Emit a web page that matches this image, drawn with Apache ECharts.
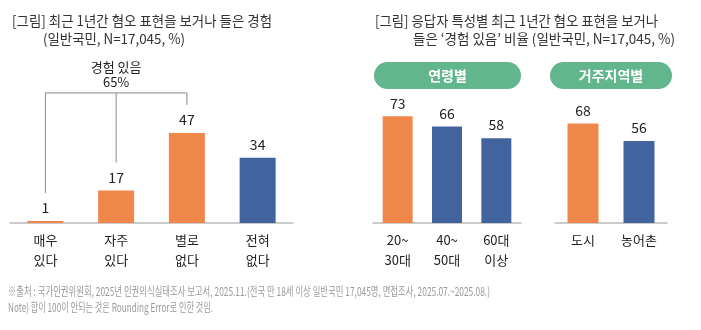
<!DOCTYPE html>
<html>
<head>
<meta charset="utf-8">
<script src="https://cdn.jsdelivr.net/npm/echarts@6/dist/echarts.min.js"></script>
<style>
  html, body { margin: 0; padding: 0; background: #fff; }
  #main { width: 701px; height: 330px; }
</style>
</head>
<body>
<div id="main"></div>
<script>
// 경험 빈도 (왼쪽)
const freqCats = ['매우\n있다', '자주\n있다', '별로\n없다', '전혀\n없다'];
const freqVals = [1, 17, 47, 34];
// 연령별
const ageCats = ['20~\n30대', '40~\n50대', '60대\n이상'];
const ageVals = [73, 66, 58];
// 거주지역별
const areaCats = ['도시', '농어촌'];
const areaVals = [68, 56];
const expSum = '경험 있음\n65%';

const ORANGE = '#f0874a';
const BLUE = '#41649e';
const GREEN = '#62b68c';
const freqColors = [ORANGE, ORANGE, ORANGE, BLUE];
const ageColors = [ORANGE, BLUE, BLUE];
const areaColors = [ORANGE, BLUE];

const FONT = '"Noto Sans CJK KR", "Noto Sans", sans-serif';

// 글자 폭 맞추기용
const cv = document.createElement('canvas').getContext('2d');
function fit(text, size, target) {
  cv.font = size + 'px ' + FONT;
  return target / cv.measureText(text).width;
}
function txt(text, x, y, size, width, color, weight) {
  return {
    type: 'text', x: x, y: y, scaleX: fit(text, size, width),
    style: { text: text, fontSize: size, fontFamily: FONT, fill: color || '#333',
      fontWeight: weight || 'normal', textAlign: 'left', textVerticalAlign: 'middle' }
  };
}

const chart = echarts.init(document.getElementById('main'));

function xAx(idx, cats) {
  return {
    type: 'category', gridIndex: idx, data: cats,
    axisLine: { lineStyle: { color: '#bbb', width: 1.5 } },
    axisTick: { show: false },
    axisLabel: { color: '#222', fontSize: 13, fontFamily: FONT, lineHeight: 20, margin: 7, interval: 0 }
  };
}
function yAx(idx, max) {
  return { type: 'value', gridIndex: idx, min: 0, max: max, show: false };
}
function bars(idx, vals, colors, w) {
  return {
    type: 'bar', xAxisIndex: idx, yAxisIndex: idx, barWidth: w,
    data: vals.map((v, i) => ({ value: v, itemStyle: { color: colors[i] } })),
    label: { show: true, position: 'top', distance: 6, color: '#222', fontSize: 14, fontFamily: FONT },
    animation: false
  };
}

chart.setOption({
  animation: false,
  grid: [
    { left: 10, width: 283, top: 108, height: 115 },
    { left: 373, width: 148, top: 106, height: 117 },
    { left: 555, width: 112, top: 106, height: 117 }
  ],
  xAxis: [xAx(0, freqCats), xAx(1, ageCats), xAx(2, areaCats)],
  yAxis: [yAx(0, 60), yAx(1, 80), yAx(2, 80)],
  series: [bars(0, freqVals, freqColors, 36), bars(1, ageVals, ageColors, 30), bars(2, areaVals, areaColors, 31)]
});

// 경험 있음 괄호
const pts = freqVals.slice(0, 3).map((v, i) => chart.convertToPixel({ xAxisIndex: 0, yAxisIndex: 0 }, [i, v]));
const topY = Math.min(...pts.map(p => p[1])) - 40;
const bracket = [
  { type: 'polyline', shape: { points: [[pts[0][0], pts[0][1] - 28], [pts[0][0], topY], [pts[2][0], topY], [pts[2][0], pts[2][1] - 28]] },
    style: { stroke: '#888', lineWidth: 1, fill: null } },
  { type: 'line', shape: { x1: pts[1][0], y1: topY, x2: pts[1][0], y2: pts[1][1] - 28 },
    style: { stroke: '#888', lineWidth: 1 } },
  { type: 'text', x: pts[1][0], y: topY - 18,
    style: { text: expSum, fontSize: 13, fontFamily: FONT, fill: '#222', lineHeight: 15, textAlign: 'center', textVerticalAlign: 'middle' } }
];

function pill(x, w, label) {
  return [
    { type: 'rect', shape: { x: x, y: 62, width: w, height: 27, r: 13.5 }, style: { fill: GREEN } },
    { type: 'text', x: x + w / 2, y: 75.5,
      style: { text: label, fontSize: 14, fontFamily: FONT, fontWeight: 'bold', fill: '#fff', textAlign: 'center', textVerticalAlign: 'middle' } }
  ];
}

chart.setOption({
  graphic: [
    txt('[그림] 최근 1년간 혐오 표현을 보거나 들은 경험', 12, 21, 14, 260),
    txt('(일반국민, N=17,045, %)', 43, 39, 14, 142),
    txt('[그림] 응답자 특성별 최근 1년간 혐오 표현을 보거나', 375, 21, 14, 283),
    txt('들은 ‘경험 있음’ 비율 (일반국민, N=17,045, %)', 413, 39, 14, 262),
    ...pill(374, 147, '연령별'),
    ...pill(550, 122, '거주지역별'),
    ...bracket,
    txt('※출처 : 국가인권위원회, 2025년 인권의식실태조사 보고서, 2025.11.(전국 만 18세 이상 일반국민 17,045명, 면접조사, 2025.07.~2025.08.)', 8, 291, 12, 482, '#9a9a9a'),
    txt('Note) 합이 100이 안되는 것은 Rounding Error로 인한 것임.', 8, 307, 12, 205, '#9a9a9a')
  ]
});
</script>
</body>
</html>
